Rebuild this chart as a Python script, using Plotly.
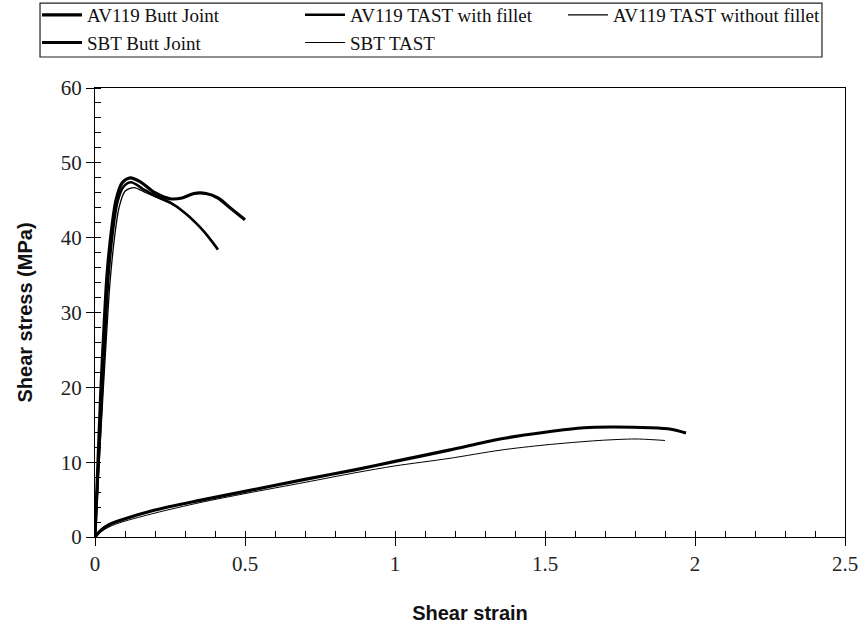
import plotly.graph_objects as go

# AV119 Butt Joint
av_bj_x = [0, 0.01, 0.02, 0.03, 0.04, 0.055, 0.07, 0.09, 0.117, 0.15, 0.2, 0.25, 0.29, 0.33, 0.37, 0.41, 0.45, 0.5]
av_bj_y = [0, 10, 20, 28, 35, 41, 45, 47.3, 48.0, 47.5, 46.0, 45.2, 45.3, 45.9, 45.9, 45.3, 44.0, 42.4]

# AV119 TAST with fillet
av_tf_x = [0, 0.012, 0.024, 0.035, 0.045, 0.06, 0.075, 0.095, 0.12, 0.16, 0.2, 0.25, 0.3, 0.35, 0.38, 0.41]
av_tf_y = [0, 10, 20, 28, 35, 41, 44.8, 46.8, 47.4, 46.5, 45.6, 44.7, 43.3, 41.4, 40.0, 38.4]

# AV119 TAST without fillet
av_tn_x = [0, 0.014, 0.028, 0.04, 0.05, 0.065, 0.08, 0.1, 0.13, 0.17, 0.21, 0.25, 0.28]
av_tn_y = [0, 10, 20, 28, 34, 40, 44, 46.2, 46.7, 46.0, 45.3, 44.6, 44.0]

# SBT Butt Joint
sbt_bj_x = [0, 0.02, 0.05, 0.09, 0.2, 0.35, 0.5, 0.7, 0.87, 1.0, 1.18, 1.35, 1.5, 1.63, 1.72, 1.85, 1.92, 1.97]
sbt_bj_y = [0, 0.9, 1.7, 2.3, 3.6, 4.9, 6.1, 7.7, 9.0, 10.1, 11.6, 13.1, 14.0, 14.6, 14.7, 14.6, 14.4, 13.9]

# SBT TAST
sbt_t_x = [0, 0.02, 0.05, 0.09, 0.2, 0.35, 0.5, 0.7, 0.87, 1.0, 1.18, 1.35, 1.5, 1.68, 1.8, 1.86, 1.9]
sbt_t_y = [0, 0.7, 1.4, 2.0, 3.2, 4.6, 5.8, 7.3, 8.6, 9.5, 10.5, 11.6, 12.3, 12.9, 13.1, 13.0, 12.9]

series = [
    ("AV119 Butt Joint", av_bj_x, av_bj_y, 3.2),
    ("AV119 TAST with fillet", av_tf_x, av_tf_y, 2.6),
    ("AV119 TAST without fillet", av_tn_x, av_tn_y, 1.3),
    ("SBT Butt Joint", sbt_bj_x, sbt_bj_y, 3.2),
    ("SBT TAST", sbt_t_x, sbt_t_y, 1.0),
]

fig = go.Figure()
for name, xs, ys, w in series:
    fig.add_trace(go.Scatter(x=xs, y=ys, mode="lines", name=name,
                             line=dict(color="black", width=w, shape="spline", smoothing=0.8)))

tickfont = dict(family="Liberation Serif", size=21, color="#222")
titlefont = dict(family="Liberation Sans", size=20, color="#111", weight="bold")

# legend frame drawn as a shape (paper coords)
fig.add_shape(type="rect", xref="paper", yref="paper",
              x0=-0.0733, x1=0.9693, y0=1.069, y1=1.189,
              line=dict(color="#222", width=1.2), fillcolor="rgba(0,0,0,0)", layer="below")

fig.update_layout(
    width=864, height=635,
    margin=dict(l=95, r=19, t=88, b=98, autoexpand=False),
    paper_bgcolor="white", plot_bgcolor="white",
    showlegend=True,
    legend=dict(orientation="h", x=-0.0773, y=1.205, xanchor="left", yanchor="top",
                borderwidth=0, bgcolor="rgba(0,0,0,0)",
                font=dict(family="Liberation Serif", size=19, color="#111"),
                entrywidth=208, entrywidthmode="pixels", itemwidth=40, tracegroupgap=0),
    xaxis=dict(range=[0, 2.5], dtick=0.5, showgrid=False, zeroline=False, automargin=False,
               showline=True, linecolor="black", linewidth=1, mirror=True,
               ticks="outside", ticklen=8, tickcolor="black", tickfont=tickfont,
               minor=dict(dtick=0.1, ticks="inside", ticklen=6, tickcolor="black", showgrid=False),
               title=dict(text="Shear strain", font=titlefont, standoff=30)),
    yaxis=dict(range=[0, 60], dtick=10, showgrid=False, zeroline=False, automargin=False,
               showline=True, linecolor="black", linewidth=1, mirror=True,
               ticks="outside", ticklen=8, tickcolor="black", tickfont=tickfont,
               minor=dict(dtick=2, ticks="inside", ticklen=6, tickcolor="black", showgrid=False),
               title=dict(text="Shear stress (MPa)", font=titlefont, standoff=22)),
)

fig.write_html("out.html", config={"displayModeBar": False},
               post_script="document.body.style.margin='0';document.body.style.overflow='hidden';")
